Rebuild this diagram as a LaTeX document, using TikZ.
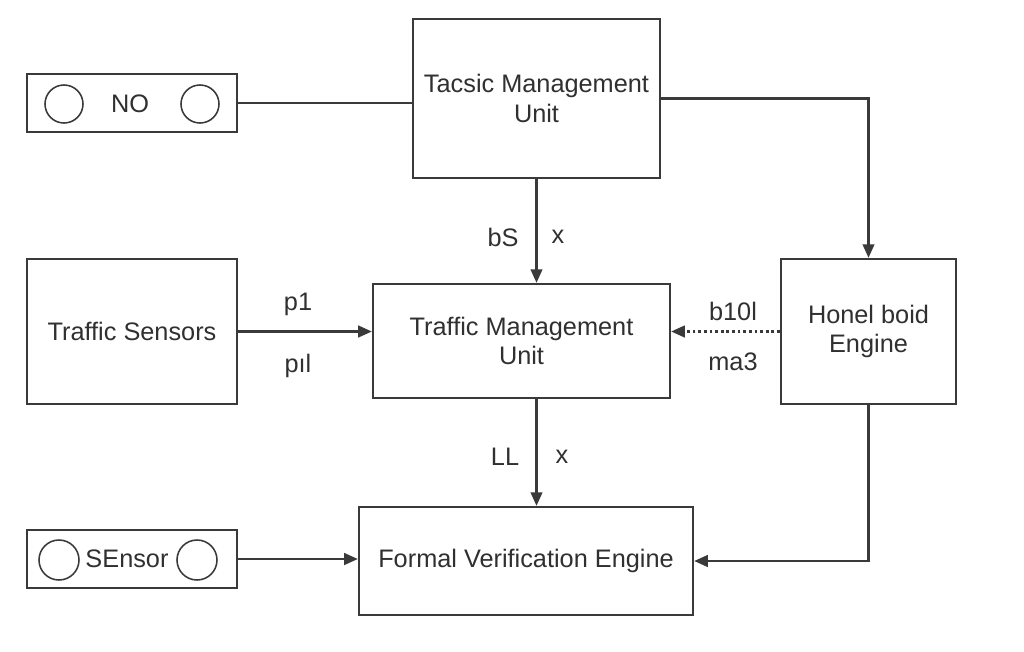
\documentclass[tikz,border=0pt]{standalone}
\usepackage{fontspec}
\setmainfont{Liberation Sans}
\usetikzlibrary{positioning,arrows.meta,calc}
\definecolor{InkGray}{RGB}{58,58,58}
\definecolor{TextGray}{RGB}{48,48,48}
\tikzset{
  flow/.style={-{Triangle[length=3.4mm,width=2.9mm]},line width=1.6pt,draw=InkGray},
  dashflow/.style={flow,dash pattern=on 2pt off 2pt},
  link/.style={line width=1.6pt,draw=InkGray},
  unitbox/.style={draw=InkGray,line width=1.6pt,fill=white,inner sep=0pt,
    align=center,text=TextGray,font=\fontsize{18}{21}\selectfont},
  knob/.style={circle,draw=InkGray,line width=1.1pt,inner sep=0pt},
  lbl/.style={inner sep=0pt,text=TextGray,font=\fontsize{18}{21}\selectfont}
}
\begin{document}
\begin{tikzpicture}[x=0.025cm,y=-0.025cm]
  \fill[white] (0,0) rectangle (1024,651);
  \useasboundingbox (0,0) rectangle (1024,651);

  % top row
  \node[unitbox,minimum width=5.25cm,minimum height=1.45cm] (nobox) at (132,103) {};
  \node[lbl] (notext) at (130,104) {NO};
  \node[knob,minimum size=0.95cm] (noleft) at (64,104) {};
  \node[knob,minimum size=0.95cm] (noright) at (200,104) {};
  \node[unitbox,minimum width=6.175cm,minimum height=3.975cm] (tacsic) at (536.5,98.5) {Tacsic Management\\Unit};

  % middle row
  \node[unitbox,minimum width=5.25cm,minimum height=3.625cm] (sensors) at (132,331.5) {Traffic Sensors};
  \node[unitbox,minimum width=7.425cm,minimum height=2.85cm] (tmu) at (521.5,341) {Traffic Management\\Unit};
  \node[unitbox,minimum width=4.375cm,minimum height=3.625cm] (honel) at (868.5,331.5) {Honel boid\\Engine};

  % bottom row
  \node[unitbox,minimum width=5.25cm,minimum height=1.45cm] (sensorport) at (132,559) {};
  \node[lbl] (sensortext) at (127,559) {SEnsor};
  \node[knob,minimum size=1cm] (sensorleft) at (59,560) {};
  \node[knob,minimum size=1cm] (sensorright) at (197,560) {};
  \node[unitbox,minimum width=8.35cm,minimum height=2.7cm] (fve) at (526,561) {Formal Verification Engine};

  % connectors
  \draw[link] (nobox.east) -- (nobox.east -| tacsic.west);
  \draw[flow] (tacsic.east) -| (honel.north);
  \draw[flow] (tacsic.south) -- (tacsic.south |- tmu.north);
  \draw[flow] (sensors.east) -- (sensors.east -| tmu.west);
  \draw[dashflow] (honel.west) -- (honel.west -| tmu.east);
  \draw[flow] (tmu.south -| tacsic.south) -- (fve.north -| tacsic.south);
  \draw[flow] (honel.south) |- (fve.east);
  \draw[flow] (sensorport.east) -- (sensorport.east -| fve.west);

  % labels
  \node[lbl] (bslbl) at (503,237) {bS};
  \node[lbl] (xtop) at (558,237) {x};
  \node[lbl] (ponelbl) at (298,304) {p1};
  \node[lbl] (pillbl) at (298,366) {pıl};
  \node[lbl] (blbl) at (733,311) {b10l};
  \node[lbl] (malbl) at (733,362) {ma3};
  \node[lbl] (lllbl) at (505,457) {LL};
  \node[lbl] (xbot) at (562,457) {x};
\end{tikzpicture}
\end{document}
